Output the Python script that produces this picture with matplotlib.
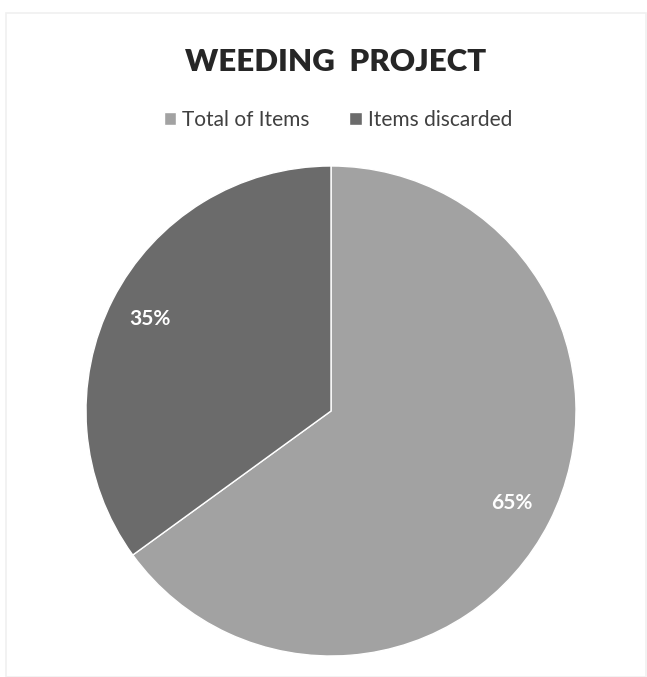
import matplotlib.pyplot as plt
from matplotlib.patches import Rectangle

labels = ["Total of Items", "Items discarded"]
shares = [65, 35]
colors = ["#a2a2a2", "#6b6b6b"]

plt.rcParams["font.family"] = ["Lato", "DejaVu Sans"]

W, H = 647, 677
fig = plt.figure(figsize=(W / 100, H / 100), dpi=100)
fig.patch.set_facecolor("white")

# faint frame of the original chart area
fig.patches.append(Rectangle((6 / W, 0), 1 - 7 / W, 1 - 13 / H, transform=fig.transFigure,
                             fill=False, edgecolor="#f0f0f0", linewidth=1.2))

cx, cy, r = 331, 411, 245
ax = fig.add_axes([(cx - r) / W, (H - cy - r) / H, 2 * r / W, 2 * r / H])
wedges, _, autotexts = ax.pie(
    shares, colors=colors, startangle=90, counterclock=False, radius=1,
    autopct="%d%%", pctdistance=0.83,
    wedgeprops=dict(edgecolor="white", linewidth=1),
    textprops=dict(color="white", fontsize=15, fontweight="bold"))
ax.set_xlim(-1, 1)
ax.set_ylim(-1, 1)
ax.set_aspect("auto")
ax.axis("off")

fig.text(336 / W, 1 - 62 / H, "WEEDING  PROJECT", ha="center", va="center",
         fontsize=22.5, fontweight="heavy", color="#262626")

fig.legend(wedges, labels, loc="center", bbox_to_anchor=(338 / W, 1 - 120 / H),
           ncol=2, frameon=False, fontsize=15, handlelength=0.6, handleheight=0.6,
           handletextpad=0.3, columnspacing=1.9, labelcolor="#404040")

fig.savefig("out.png", dpi=100, facecolor="white")
